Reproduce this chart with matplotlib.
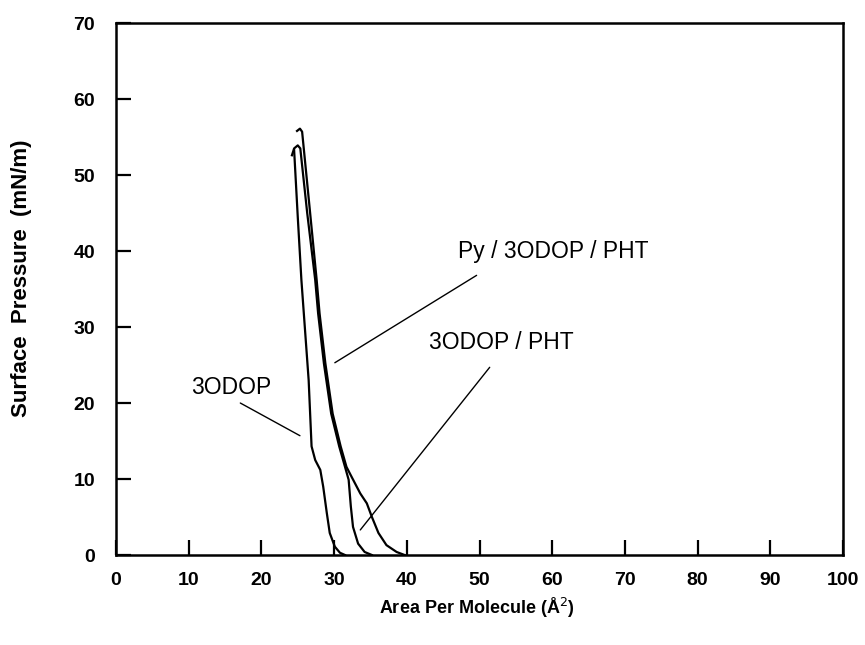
import matplotlib
matplotlib.use("Agg")
import matplotlib.pyplot as plt

plt.rcParams['font.family'] = ['Liberation Sans', 'DejaVu Sans']

# Data (Area per molecule, Surface pressure)
odop_x = [24.5, 25.0, 25.5, 26.0, 26.5, 26.9, 27.4, 28.1, 28.5, 29.0, 29.4, 30.1, 30.8, 31.5]
odop_y = [53.3, 44.5, 36.2, 29.6, 23.0, 14.3, 12.5, 11.2, 9.0, 5.5, 2.9, 1.1, 0.3, 0.0]

odop_pht_x = [24.2, 24.5, 25.0, 25.35, 26.3, 27.4, 27.8, 28.6, 29.6, 30.7, 31.5, 32.0, 32.3, 32.6, 33.3, 34.2, 35.2]
odop_pht_y = [52.6, 53.5, 53.9, 53.5, 45.0, 36.2, 31.8, 25.2, 18.6, 14.3, 11.6, 9.9, 6.4, 3.7, 1.5, 0.4, 0.0]

py_x = [24.9, 25.3, 25.6, 26.6, 27.6, 28.0, 28.8, 29.8, 30.9, 31.7, 32.4, 33.6, 34.5, 35.2, 36.1, 37.2, 38.6, 39.7]
py_y = [55.8, 56.1, 55.7, 46.0, 36.2, 31.8, 25.2, 18.6, 14.3, 11.6, 10.3, 8.1, 6.8, 5.0, 2.9, 1.3, 0.4, 0.0]

x_ticks = [0, 10, 20, 30, 40, 50, 60, 70, 80, 90, 100]
y_ticks = [0, 10, 20, 30, 40, 50, 60, 70]

fig = plt.figure(figsize=(8.65, 6.45), dpi=100)
ax = fig.add_axes([0.1341, 0.1395, 0.9746 - 0.1341, 0.9643 - 0.1395])

for xs, ys in [(odop_x, odop_y), (odop_pht_x, odop_pht_y), (py_x, py_y)]:
    ax.plot(xs, ys, color='black', lw=1.6, solid_joinstyle='round')

ax.set_xlim(0, 100)
ax.set_ylim(0, 70)
ax.set_xticks(x_ticks)
ax.set_yticks(y_ticks)
ax.tick_params(direction='in', length=11, width=1.6, labelsize=14)
ax.tick_params(axis='x', pad=12)
ax.tick_params(axis='y', pad=15)
for lab in ax.get_xticklabels() + ax.get_yticklabels():
    lab.set_fontweight('bold')
for s in ax.spines.values():
    s.set_linewidth(1.8)

ax.set_xlabel('Area Per Molecule (Å$^{2}$)', fontsize=13, fontweight='bold')
ax.set_ylabel('Surface  Pressure  (mN/m)', fontsize=16, fontweight='bold')
ax.xaxis.set_label_coords(0.497, -0.077)
ax.yaxis.set_label_coords(-0.116, 0.52)

# annotations
lp = dict(arrowstyle='-', color='black', lw=1.0, shrinkA=0, shrinkB=0)
ax.text(60.1, 39.9, 'Py / 3ODOP / PHT', fontsize=16.5, ha='center', va='center')
ax.annotate('', xy=(30.1, 25.3), xytext=(49.6, 36.8), arrowprops=lp)
ax.text(53.0, 28.0, '3ODOP / PHT', fontsize=16.5, ha='center', va='center')
ax.annotate('', xy=(33.6, 3.3), xytext=(51.4, 24.7), arrowprops=lp)
ax.text(15.8, 22.1, '3ODOP', fontsize=16.5, ha='center', va='center')
ax.annotate('', xy=(25.3, 15.7), xytext=(17.1, 20.0), arrowprops=lp)

fig.savefig('out.png', dpi=100)
